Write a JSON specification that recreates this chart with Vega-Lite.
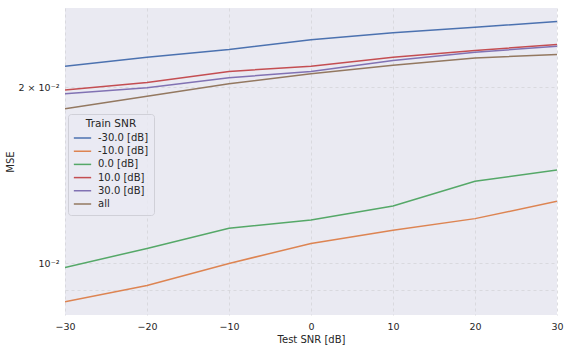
{
  "$schema": "https://vega.github.io/schema/vega-lite/v6.json",
  "width": 492,
  "height": 307,
  "autosize": "none",
  "padding": {"left": 65, "top": 8, "right": 13, "bottom": 39},
  "background": "white",
  "config": {
    "font": "DejaVu Sans",
    "view": {"fill": "#EAEAF2", "stroke": null},
    "axis": {"labelFont": "DejaVu Sans", "titleFont": "DejaVu Sans", "labelColor": "#262626", "titleColor": "#262626", "titleFontWeight": "normal", "domain": false, "ticks": false, "gridColor": "#d4d4d8", "gridDash": [3, 3], "gridWidth": 0.8, "labelFontSize": 9.5, "titleFontSize": 10}
  },
  "data": {
    "values": [
      {"test": -30, "train": "-30.0 [dB]", "mse": 0.02175},
      {"test": -20, "train": "-30.0 [dB]", "mse": 0.02253},
      {"test": -10, "train": "-30.0 [dB]", "mse": 0.02323},
      {"test": 0, "train": "-30.0 [dB]", "mse": 0.02413},
      {"test": 10, "train": "-30.0 [dB]", "mse": 0.02481},
      {"test": 20, "train": "-30.0 [dB]", "mse": 0.02536},
      {"test": 30, "train": "-30.0 [dB]", "mse": 0.02593},
      {"test": -30, "train": "-10.0 [dB]", "mse": 0.008587},
      {"test": -20, "train": "-10.0 [dB]", "mse": 0.009159},
      {"test": -10, "train": "-10.0 [dB]", "mse": 0.009988},
      {"test": 0, "train": "-10.0 [dB]", "mse": 0.010807},
      {"test": 10, "train": "-10.0 [dB]", "mse": 0.01139},
      {"test": 20, "train": "-10.0 [dB]", "mse": 0.01192},
      {"test": 30, "train": "-10.0 [dB]", "mse": 0.01276},
      {"test": -30, "train": "0.0 [dB]", "mse": 0.009832},
      {"test": -20, "train": "0.0 [dB]", "mse": 0.010596},
      {"test": -10, "train": "0.0 [dB]", "mse": 0.01148},
      {"test": 0, "train": "0.0 [dB]", "mse": 0.01186},
      {"test": 10, "train": "0.0 [dB]", "mse": 0.01253},
      {"test": 20, "train": "0.0 [dB]", "mse": 0.01381},
      {"test": 30, "train": "0.0 [dB]", "mse": 0.01444},
      {"test": -30, "train": "10.0 [dB]", "mse": 0.01979},
      {"test": -20, "train": "10.0 [dB]", "mse": 0.0204},
      {"test": -10, "train": "10.0 [dB]", "mse": 0.0213},
      {"test": 0, "train": "10.0 [dB]", "mse": 0.02175},
      {"test": 10, "train": "10.0 [dB]", "mse": 0.02253},
      {"test": 20, "train": "10.0 [dB]", "mse": 0.02314},
      {"test": 30, "train": "10.0 [dB]", "mse": 0.02369},
      {"test": -30, "train": "30.0 [dB]", "mse": 0.01951},
      {"test": -20, "train": "30.0 [dB]", "mse": 0.01998},
      {"test": -10, "train": "30.0 [dB]", "mse": 0.02078},
      {"test": 0, "train": "30.0 [dB]", "mse": 0.0213},
      {"test": 10, "train": "30.0 [dB]", "mse": 0.02225},
      {"test": 20, "train": "30.0 [dB]", "mse": 0.02298},
      {"test": 30, "train": "30.0 [dB]", "mse": 0.02353},
      {"test": -30, "train": "all", "mse": 0.01839},
      {"test": -20, "train": "all", "mse": 0.01932},
      {"test": -10, "train": "all", "mse": 0.0203},
      {"test": 0, "train": "all", "mse": 0.0211},
      {"test": 10, "train": "all", "mse": 0.02182},
      {"test": 20, "train": "all", "mse": 0.02247},
      {"test": 30, "train": "all", "mse": 0.02277}
    ]
  },
  "mark": {"type": "line", "strokeWidth": 1.5, "clip": true},
  "encoding": {
    "x": {
      "field": "test", "type": "quantitative",
      "scale": {"domain": [-30, 30], "nice": false, "zero": false},
      "axis": {"title": "Test SNR [dB]", "values": [-30, -20, -10, 0, 10, 20, 30], "labelExpr": "replace(datum.label, '-', '−')", "labelFlush": false, "labelPadding": 6, "titlePadding": 4}
    },
    "y": {
      "field": "mse", "type": "quantitative",
      "scale": {"type": "log", "domain": [0.00815, 0.02736], "nice": false, "zero": false},
      "axis": {"title": "MSE", "values": [0.009, 0.01, 0.02], "labelExpr": "datum.value == 0.01 ? '10⁻²' : (datum.value == 0.02 ? '2 × 10⁻²' : '')", "labelPadding": 6, "titlePadding": 3}
    },
    "color": {
      "field": "train", "type": "nominal",
      "sort": ["-30.0 [dB]", "-10.0 [dB]", "0.0 [dB]", "10.0 [dB]", "30.0 [dB]", "all"],
      "scale": {"domain": ["-30.0 [dB]", "-10.0 [dB]", "0.0 [dB]", "10.0 [dB]", "30.0 [dB]", "all"], "range": ["#4c72b0", "#dd8452", "#55a868", "#c44e52", "#8172b3", "#937860"]},
      "legend": {
        "title": "Train SNR", "orient": "none", "legendX": 3, "legendY": 106,
        "fillColor": "rgba(234,234,242,0.8)", "strokeColor": "#d0d0d8", "cornerRadius": 3,
        "padding": 5, "titleAnchor": "middle", "titleFontWeight": "normal", "titleFontSize": 10.5, "titleColor": "#262626",
        "labelFontSize": 10, "labelColor": "#262626", "symbolType": "stroke", "symbolSize": 300, "symbolStrokeWidth": 1.5,
        "clipHeight": 11, "rowPadding": 2.2, "titlePadding": 3, "labelOffset": 6
      }
    }
  }
}
